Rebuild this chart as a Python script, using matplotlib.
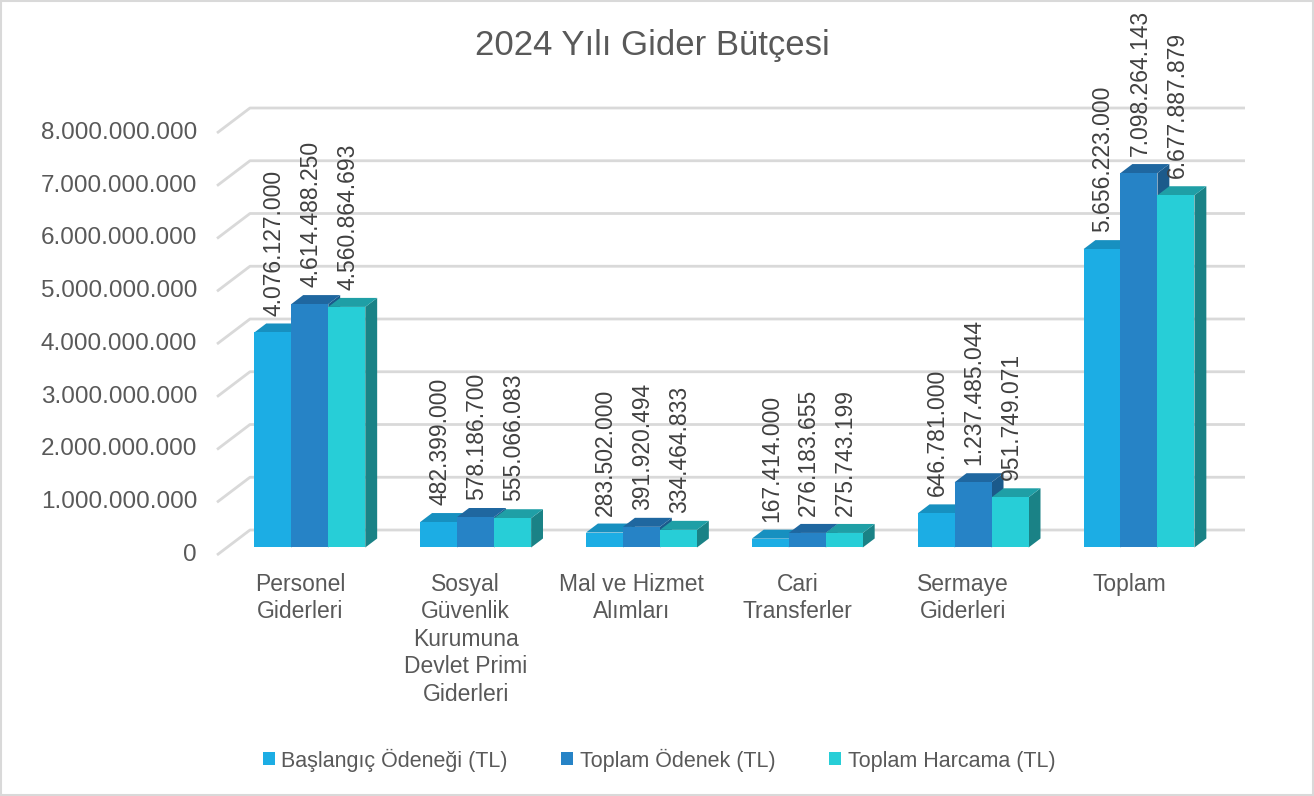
import numpy as np
import matplotlib.pyplot as plt
from matplotlib.patches import Polygon, Patch, Rectangle

plt.rcParams['font.family'] = ['Liberation Sans', 'DejaVu Sans']

categories = ["Personel\nGiderleri",
              "Sosyal\nGüvenlik\nKurumuna\nDevlet Primi\nGiderleri",
              "Mal ve Hizmet\nAlımları",
              "Cari\nTransferler",
              "Sermaye\nGiderleri",
              "Toplam"]
series_names = ["Başlangıç Ödeneği (TL)", "Toplam Ödenek (TL)", "Toplam Harcama (TL)"]
baslangic = [4076127000, 482399000, 283502000, 167414000, 646781000, 5656223000]
toplam_odenek = [4614488250, 578186700, 391920494, 276183655, 1237485044, 7098264143]
toplam_harcama = [4560864693, 555066083, 334464833, 275743199, 951749071, 6677887879]
yticks = np.arange(0, 8e9 + 1, 1e9)

# front, top, side colours for each series
colors = [("#1CADE4", "#1790C0", "#137BA3"),
          ("#2683C6", "#1F67A0", "#1B5A8B"),
          ("#27CED7", "#1F9FA6", "#1A8286")]
text_col = "#595959"
grid_col = "#D9D9D9"

W, H = 1314, 796
fig = plt.figure(figsize=(W / 100, H / 100), dpi=100)
ax = fig.add_axes([217 / W, (H - 555) / H, 995 / W, 422 / H])
ax.set_xlim(0, 6)
ax.set_ylim(0, 8e9)
ax.axis('off')

# depth of the 3d box in data units
DX = 0.199
DY = 0.474e9
f0, f1 = 0.3, 0.66
bw = 0.223

def fmt(v):
    return "{:,}".format(int(v)).replace(",", ".")

# gridlines (wall)
for v in yticks:
    ax.plot([0, DX, 6 + DX], [v, v + DY, v + DY], color=grid_col, lw=2,
            clip_on=False, zorder=1, solid_capstyle='butt')
    ax.text(-0.12, v, fmt(v), ha='right', va='center', fontsize=17.5,
            color=text_col)

all_series = [baslangic, toplam_odenek, toplam_harcama]
for i in range(len(categories)):
    for j, vals in enumerate(all_series):
        v = vals[i]
        x0 = i + 0.5 + (j - 1.5) * bw + f0 * DX
        x1 = x0 + bw
        y0 = f0 * DY
        y1 = v + f0 * DY
        ddx = (f1 - f0) * DX
        ddy = (f1 - f0) * DY
        front, top, side = colors[j]
        z = 3 + j
        ax.add_patch(Polygon([(x1, y0), (x1 + ddx, y0 + ddy), (x1 + ddx, y1 + ddy), (x1, y1)],
                             closed=True, fc=side, ec='none', zorder=z, clip_on=False))
        ax.add_patch(Polygon([(x0, y1), (x1, y1), (x1 + ddx, y1 + ddy), (x0 + ddx, y1 + ddy)],
                             closed=True, fc=top, ec='none', zorder=z, clip_on=False))
        ax.add_patch(Polygon([(x0, y0), (x1, y0), (x1, y1), (x0, y1)],
                             closed=True, fc=front, ec='none', zorder=z, clip_on=False))
        ax.text((x0 + x1) / 2 + 0.006, y1 + ddy + 0.15e9, fmt(v), rotation=90,
                ha='center', va='bottom', fontsize=16.5, color='#404040',
                zorder=10, clip_on=False)
    ax.text(i + 0.5, -0.34e9, categories[i], ha='center', va='top',
            fontsize=16.5, color=text_col, linespacing=1.25)

fig.text(652 / W, 1 - 46 / H, "2024 Yılı Gider Bütçesi", ha='center', va='center',
         fontsize=25, color=text_col)

handles = [Patch(fc=c[0], ec='none') for c in colors]
fig.legend(handles, series_names, loc='center', bbox_to_anchor=(659 / W, 1 - 760 / H),
           ncol=3, frameon=False, fontsize=15.5, labelcolor=text_col,
           handlelength=0.55, handleheight=0.55, handletextpad=0.3, columnspacing=2.5)

fig.patches.append(Rectangle((0.001, 0.001), 0.998, 0.998, transform=fig.transFigure,
                             fill=False, ec=grid_col, lw=1.5))

fig.savefig("out.png", dpi=100)
